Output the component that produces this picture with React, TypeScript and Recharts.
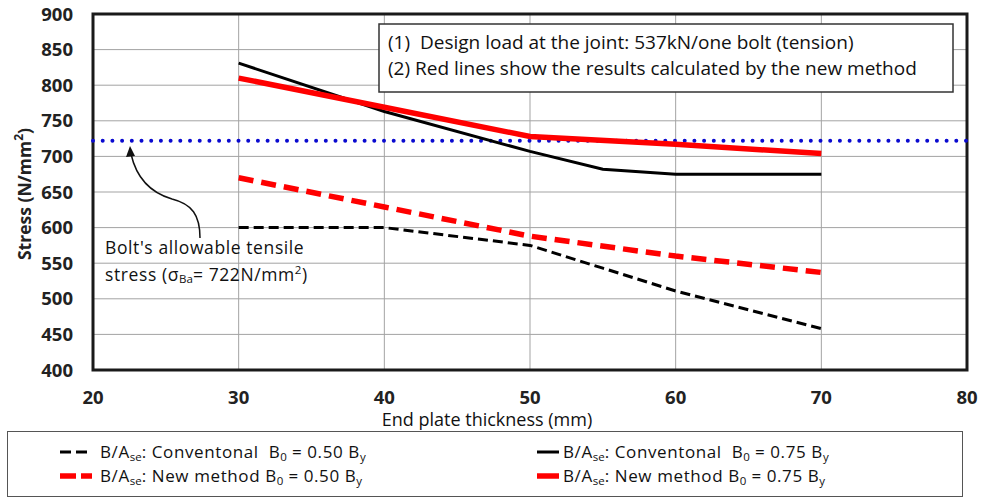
import {
  LineChart,
  Line,
  XAxis,
  YAxis,
  CartesianGrid,
  ReferenceLine,
  ReferenceArea,
  Legend,
} from 'recharts';

// end plate thickness (mm)
const thickness = [30, 40, 50, 55, 60, 70];
// stress (N/mm2) for each series, null where the series has no point
const conv050 = [600, 600, 575, 543, 511, 458];
const new050 = [670, 629, 588, null, 560, 537];
const conv075 = [831, 763, 707, 682, 675, 675];
const new075 = [810, 769, 728, null, 717, 704];

const xTicks = [20, 30, 40, 50, 60, 70, 80];
const yTicks = [400, 450, 500, 550, 600, 650, 700, 750, 800, 850, 900];
const allowableStress = 722;

const noteLines = [
  '(1)  Design load at the joint: 537kN/one bolt (tension)',
  '(2) Red lines show the results calculated by the new method',
];

const rows = thickness.map((t, i) => ({
  t,
  conv050: conv050[i],
  new050: new050[i],
  conv075: conv075[i],
  new075: new075[i],
}));

const FONT = '"Open Sans", sans-serif';

const series = [
  { key: 'conv050', method: 'Conventonal', b0: '0.50', color: '#000', width: 3, dash: '10 5', col: 0, row: 0 },
  { key: 'conv075', method: 'Conventonal', b0: '0.75', color: '#000', width: 3, dash: undefined, col: 1, row: 0 },
  { key: 'new050', method: 'New method', b0: '0.50', color: '#ff0000', width: 5.5, dash: '15 8', col: 0, row: 1 },
  { key: 'new075', method: 'New method', b0: '0.75', color: '#ff0000', width: 5.5, dash: undefined, col: 1, row: 1 },
];

const subStyle = { fontSize: 11.5, lineHeight: 0, verticalAlign: '-0.25em', letterSpacing: 0 };

const LegendBox = () => (
  <div
    style={{
      position: 'relative',
      height: 66,
      boxSizing: 'border-box',
      border: '1.5px solid #555',
      background: '#fff',
      fontFamily: FONT,
      fontSize: 17,
      letterSpacing: 0.6,
      color: '#111',
    }}
  >
    {series.map((s) => {
      const iconW = s.col === 0 ? 36 : 26;
      return (
        <div
          key={s.key}
          style={{
            position: 'absolute',
            left: s.col === 0 ? 50 : 527,
            top: s.row === 0 ? 9 : 33,
            height: 22,
            lineHeight: '22px',
            display: 'flex',
            alignItems: 'center',
            whiteSpace: 'pre',
          }}
        >
          <svg width={iconW} height={10} style={{ marginRight: s.col === 0 ? 6 : 2 }}>
            <line
              x1={2}
              y1={5}
              x2={iconW - 2}
              y2={5}
              stroke={s.color}
              strokeWidth={s.width}
              strokeDasharray={s.dash ? (s.width > 4 ? '16 5' : '11 5') : undefined}
            />
          </svg>
          <span>
            B/A<sub style={subStyle}>se</sub>: {s.method}
            {s.method === 'Conventonal' ? '  ' : ' '}B<sub style={subStyle}>0</sub> = {s.b0} B
            <sub style={subStyle}>y</sub>
          </span>
        </div>
      );
    })}
  </div>
);

export default function App() {
  return (
    <div style={{ position: 'absolute', left: 0, top: 0, background: '#fff' }}>
      <LineChart
        width={981}
        height={499}
        data={rows}
        margin={{ top: 14, right: 14, left: 0, bottom: 2 }}
      >
        <CartesianGrid stroke="#a3a3a3" strokeWidth={1} />
        <XAxis
          dataKey="t"
          type="number"
          domain={[20, 80]}
          ticks={xTicks}
          height={61}
          tickSize={0}
          tickMargin={21}
          axisLine={false}
          tick={{ fontSize: 18.5, fontWeight: 700, fill: '#222', fontFamily: FONT }}
        />
        <YAxis
          type="number"
          domain={[400, 900]}
          ticks={yTicks}
          width={93}
          tickSize={0}
          tickMargin={20}
          axisLine={false}
          tick={{ fontSize: 18.5, fontWeight: 700, fill: '#222', fontFamily: FONT }}
        />
        <ReferenceLine
          y={allowableStress}
          stroke="#0a0ad0"
          strokeWidth={4}
          strokeDasharray="0 9.7"
          strokeLinecap="round"
        />
        {series.map((s) => (
          <Line
            key={s.key}
            dataKey={s.key}
            stroke={s.color}
            strokeWidth={s.width}
            strokeDasharray={s.dash}
            dot={false}
            activeDot={false}
            connectNulls
            type="linear"
            isAnimationActive={false}
          />
        ))}
        <ReferenceArea
          x1={20}
          x2={80}
          y1={400}
          y2={900}
          fill="none"
          stroke="#1a1a1a"
          strokeWidth={3}
          ifOverflow="visible"
        />
        <Legend verticalAlign="bottom" wrapperStyle={{ left: 7, width: 956, bottom: 2 }} content={() => <LegendBox />} />

        {/* notes box */}
        <g fontFamily={FONT} fontSize={19} fill="#111">
          <rect x={379} y={24} width={574} height={68} fill="#fff" stroke="#333" strokeWidth={1.5} />
          <text x={388} y={42} dominantBaseline="central" style={{ whiteSpace: 'pre' }}>
            {noteLines[0]}
          </text>
          <text x={388} y={68} dominantBaseline="central" style={{ whiteSpace: 'pre' }}>
            {noteLines[1]}
          </text>
        </g>

        {/* allowable stress annotation */}
        <g fontFamily={FONT} fontSize={17.5} fontWeight={500} letterSpacing={0.6} fill="#111">
          <path
            d="M 200 238 C 200 215, 192 204, 172 199 C 148 192, 136 176, 131 154"
            fill="none"
            stroke="#111"
            strokeWidth={1.5}
          />
          <polygon points="130,146 126,157 135,156" fill="#111" />
          <text x={105} y={247} dominantBaseline="central">
            Bolt's allowable tensile
          </text>
          <text x={105} y={274} dominantBaseline="central">
            stress (σ
            <tspan fontSize={11.5} dy={4} letterSpacing={0}>Ba</tspan>
            <tspan dy={-4}>= 722N/mm</tspan>
            <tspan fontSize={11.5} dy={-5}>2</tspan>
            <tspan dy={5}>)</tspan>
          </text>
        </g>

        {/* axis titles */}
        <text
          x={24}
          y={194}
          transform="rotate(-90 24 194)"
          textAnchor="middle"
          dominantBaseline="central"
          fontFamily={FONT}
          fontSize={17.5}
          fontWeight={700}
          fill="#222"
        >
          Stress (N/mm
          <tspan fontSize={12} dy={-6}>2</tspan>
          <tspan dy={6}>)</tspan>
        </text>
        <text
          x={487}
          y={419}
          textAnchor="middle"
          dominantBaseline="central"
          fontFamily={FONT}
          fontSize={18}
          fontWeight={400}
          fill="#111"
        >
          End plate thickness (mm)
        </text>
      </LineChart>
    </div>
  );
}
